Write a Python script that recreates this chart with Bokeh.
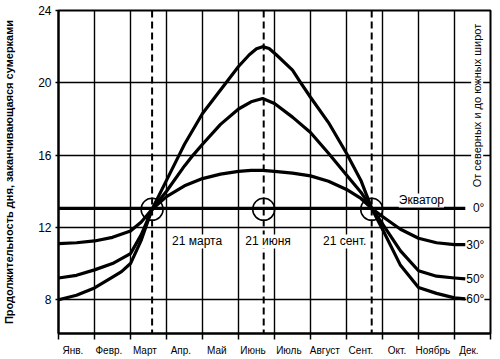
import math
from bokeh.plotting import figure
from bokeh.models import FixedTicker, Label, Range1d, Span
from bokeh.embed import file_html
from bokeh.resources import INLINE

# ---- data (x in months from 1 Jan, value = day length in hours) ----
months = ["Янв.", "Февр.", "Март", "Апр.", "Май", "Июнь", "Июль", "Август",
          "Сент.", "Окт.", "Ноябрь", "Дек."]
hour_ticks = [8, 12, 16, 20, 24]

key_dates = [2.6, 5.7, 8.7]              # 21 March, 21 June, 21 Sept
key_labels = ["21 марта", "21 июня", "21 сент."]

equator_x = [0, 11.3]
equator_h = [13.05, 13.05]

lat30_x = [0, 0.5, 1, 1.5, 2, 2.3, 2.6, 3, 3.5, 4, 4.5, 5, 5.35, 5.67, 6, 6.5, 7,
           7.5, 8, 8.4, 8.7, 9, 9.5, 10, 10.5, 11, 11.3]
lat30_h = [11.1, 11.15, 11.25, 11.45, 11.8, 12.3, 13.0, 13.7, 14.3, 14.7, 14.95,
           15.1, 15.15, 15.15, 15.1, 15.0, 14.85, 14.55, 14.1, 13.6, 13.05, 12.6,
           11.9, 11.4, 11.15, 11.05, 11.05]

lat50_x = [0, 0.5, 1, 1.5, 2, 2.3, 2.6, 3, 3.5, 3.74, 4, 4.5, 5, 5.35, 5.67, 6,
           6.5, 7, 7.5, 8, 8.4, 8.7, 9, 9.5, 10, 10.5, 11, 11.3]
lat50_h = [9.2, 9.35, 9.65, 10.0, 10.55, 11.6, 13.0, 14.0, 15.4, 16.0, 16.6, 17.7,
           18.55, 18.95, 19.13, 18.85, 18.1, 17.25, 16.1, 14.9, 13.95, 13.05, 12.2,
           10.7, 9.6, 9.3, 9.2, 9.15]

lat60_x = [0, 0.5, 1, 1.5, 1.75, 2, 2.3, 2.6, 3, 3.35, 3.5, 4, 4.5, 5, 5.3, 5.5,
           5.67, 5.85, 6.05, 6.5, 6.73, 7, 7.5, 8, 8.4, 8.7, 9, 9.5, 10, 10.5, 11,
           11.3]
lat60_h = [8.0, 8.25, 8.65, 9.25, 9.55, 10.0, 11.3, 13.0, 14.6, 16.0, 16.6, 18.3,
           19.6, 20.9, 21.55, 21.88, 22.0, 21.9, 21.55, 20.7, 20.0, 19.2, 17.8,
           16.1, 14.6, 13.05, 11.9, 9.9, 8.67, 8.35, 8.1, 8.05]

curves = [("0°", equator_x, equator_h), ("30°", lat30_x, lat30_h),
          ("50°", lat50_x, lat50_h), ("60°", lat60_x, lat60_h)]

# ---- layout ----
Y0, Y1 = 6.13, 24
FONT = "Liberation Sans"

p = figure(width=500, height=359, x_range=Range1d(0, 12), y_range=Range1d(Y0, Y1),
           output_backend="svg", toolbar_location=None,
           min_border_left=57, min_border_right=10, min_border_top=10,
           min_border_bottom=26)
p.outline_line_color = "black"
p.outline_line_width = 2
p.background_fill_color = "white"
p.border_fill_color = "white"

# grid
p.xgrid.ticker = FixedTicker(ticks=list(range(13)))
p.ygrid.ticker = FixedTicker(ticks=hour_ticks[:-1])
for g in (p.xgrid, p.ygrid):
    g.grid_line_color = "black"
    g.grid_line_width = 1.4
    g.grid_line_alpha = 1

# y axis
ya = p.yaxis[0]
ya.ticker = FixedTicker(ticks=hour_ticks)
ya.major_tick_out = 3
ya.major_tick_in = 0
ya.major_tick_line_width = 1.5
ya.minor_tick_line_color = None
ya.axis_line_width = 2
ya.major_label_standoff = 4
ya.major_label_text_font = FONT
ya.major_label_text_font_size = "12px"
ya.major_label_text_color = "black"
ya.axis_label = "Продолжительность дня, заканчивающаяся сумерками"
ya.axis_label_text_font = FONT
ya.axis_label_text_font_size = "11px"
ya.axis_label_text_font_style = "bold"
ya.axis_label_text_color = "black"
ya.axis_label_standoff = 20

# x axis: month boundaries as minor ticks, month names as major labels
xa = p.xaxis[0]
label_pos = [i + 0.4 for i in range(len(months))]
xa.ticker = FixedTicker(ticks=label_pos, minor_ticks=list(range(13)))
xa.major_label_overrides = {pos: m for pos, m in zip(label_pos, months)}
xa.major_tick_out = 0
xa.major_tick_in = 0
xa.major_tick_line_color = None
xa.minor_tick_out = 6
xa.minor_tick_in = 0
xa.minor_tick_line_width = 1.5
xa.minor_tick_line_color = "black"
xa.axis_line_width = 2
xa.major_label_standoff = 5
xa.major_label_text_font = FONT
xa.major_label_text_font_size = "10px"
xa.major_label_text_color = "black"

# dashed date lines
for d in key_dates:
    p.add_layout(Span(location=d, dimension="height", line_color="black",
                      line_width=2, line_dash="7 4"))

# curves
for name, xs, hs in curves:
    p.line(xs, hs, line_color="black", line_width=3.2, line_join="round")

# circles at the equinox / solstice points
p.scatter(key_dates, [13.0] * len(key_dates), size=22, marker="circle",
          fill_color=None, line_color="black", line_width=1.5)


def lab(x, y, text, size="12px", align="center", angle=0.0, bg=True):
    p.add_layout(Label(x=x, y=y, text=text, text_font=FONT, text_font_size=size,
                       text_align=align, text_baseline="middle", angle=angle,
                       text_color="black",
                       background_fill_color="white" if bg else None,
                       background_fill_alpha=1.0 if bg else 0))


# date annotations
lab(3.85, 11.22, key_labels[0])
lab(5.82, 11.22, key_labels[1])
lab(7.95, 11.22, key_labels[2])
lab(10.08, 13.49, "Экватор")

# latitude labels at curve ends
for name, xs, hs in curves:
    lab(11.83, hs[-1], name, size="12px", align="right")

# right vertical caption
lab(11.63, 18.74, "От северных и до южных широт", size="11px", angle=math.pi / 2)

open("out.html", "w").write(file_html(p, INLINE))
